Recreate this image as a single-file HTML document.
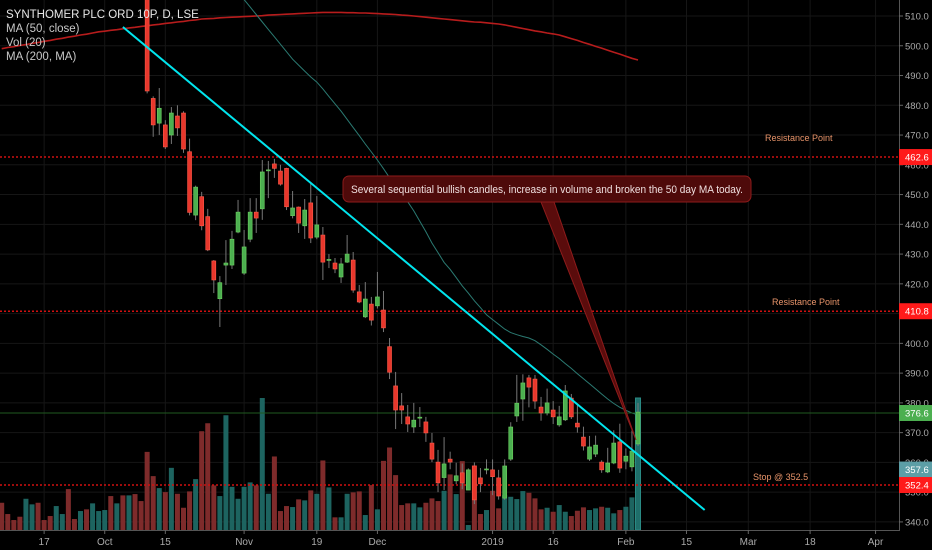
<!DOCTYPE html>
<html><head><meta charset="utf-8">
<style>
html,body{margin:0;padding:0;background:#000;}
svg{display:block;font-family:"Liberation Sans",sans-serif;}
</style></head>
<body>
<svg id="chart" width="932" height="550" viewBox="0 0 932 550">
  <rect width="932" height="550" fill="#000"/>
  <defs><clipPath id="plotClip"><rect x="0" y="0" width="899" height="530"/></clipPath></defs>
  <g id="grid"></g>
  <g id="volume" clip-path="url(#plotClip)"></g>
  <g id="lines" clip-path="url(#plotClip)"></g>
  <g id="candles" clip-path="url(#plotClip)"></g>
  <g id="overlay"></g>
  <g id="axes"></g>
  <g font-size="11.5">
    <text x="6" y="18" fill="#e6e6e6">SYNTHOMER PLC ORD 10P, D, LSE</text>
    <text x="6" y="32" fill="#c8c8c8">MA (50, close)</text>
    <text x="6" y="46" fill="#c8c8c8">Vol (20)</text>
    <text x="6" y="60" fill="#c8c8c8">MA (200, MA)</text>
  </g>
</svg>
<script>
const opens=[535,535,535,535,530,530,535,535,535,530,530,535,535,530,535,530,530,530,535,530,535,530,535,535,
525,482.3,474,473.4,470,476.4,477.4,464.4,443.1,449.3,442.6,427.7,415,426.3,426.3,437.4,423.6,435,444.1,445.2,458.1,460.3,457.9,458.8,442.9,445.8,439.5,447.2,435.7,436.4,428,427,422.3,427.3,428,417.3,408.9,413.2,
412.6,411.2,398.9,385.7,379,375.3,371.9,374.9,373.6,366.5,360.1,354.9,361.1,353.8,356.5,350.7,358.8,354.8,357.5,357.5,354.8,348,361.1,375.6,381.3,388.4,388,378.6,376.6,377.6,372.6,374.3,381.6,373.2,368.5,361.1,362.8,360.1,356.8,359.8,366.9,360.4,358.5,366.2];
const closes=[530,530,530,530,535,535,530,530,530,535,535,530,530,535,530,535,535,535,530,535,530,535,530,530,
484.8,473.4,479,466,477.4,472.4,465.3,444,452.5,439.5,431.4,421.3,420.4,427,435,444.1,432.4,444.1,442.1,457.6,458.3,458.8,453.5,445.9,445.5,440.4,444.8,435.4,439.8,427.3,428.2,425,426.7,430,417.9,413.9,414.9,407.8,
415.6,405.2,390.3,377.6,377.6,372.9,374.2,375.2,369.9,361.1,353.1,359.5,360.1,355.5,353.1,357.5,347.4,352.8,357.8,355.2,348.7,358.8,371.9,379.9,386.7,385.3,380.6,376.6,380,375.3,375.3,384,375.3,371.9,365.5,365.2,365.8,357.5,359.8,366.5,358.1,362.1,363.8,376.9];
const highs=[537,537,537,537,537,537,537,537,537,537,537,537,537,537,537,537,537,537,537,537,537,537,537,537,
532,483,485.8,475,479.4,480,478,468.8,453,450.9,445.2,428,422.6,434.7,437.8,448.2,438.1,448.8,448.8,461.6,461.3,462,460,459,451.2,446,448.5,453.9,449.5,439.1,430,428.7,428.7,436.4,430.7,419.6,420.6,415.6,
424,417.6,401.8,390.4,383.3,379.3,380,378.6,375.3,369.9,364.2,368.5,363.6,359.9,359.6,358,360,358.1,361,361,357.5,361,373.5,389.4,389.6,389.4,389.4,382,384.8,380.6,379,386,383,379.6,372,368.9,369,360.7,364.9,370.8,373,364.7,370.7,380];
const lows=[528,528,528,528,528,528,528,528,528,528,528,528,528,528,528,528,528,528,528,528,528,528,528,528,
484,469.4,470,465.3,467,469.7,464,443,441.4,438,431,416.9,405.5,419.6,425,437,423,434,437.1,441.5,448.8,455.6,453,444.8,442,437.1,435.1,433.7,435,421.3,425.3,423.6,420.3,427,417,413.5,408.5,406,
411.7,403.8,388,371.2,372.9,370.2,369.9,371.9,366.9,360.1,350,350.7,357.7,352.7,351,350.7,346,350,356,349,347.5,347.4,360.5,373.6,374,378.5,378,374,375.8,372.9,372,373.9,374.6,370,364,360.5,361.8,356.5,356.4,359.4,356.5,357.7,357,365.5];
const volumes=[273,160,100,133,313,257,273,100,140,240,160,410,110,190,207,267,190,200,340,267,347,347,360,290,
783,540,420,380,623,363,223,387,510,990,1070,447,340,1150,433,313,433,477,447,1323,363,737,190,240,230,307,297,397,363,697,427,127,127,363,377,387,150,450,
207,693,827,550,250,267,267,227,273,317,290,393,557,360,690,50,647,160,200,393,217,350,333,310,390,373,317,207,223,183,250,183,140,193,227,200,217,233,223,167,200,233,327,1323];
const ma50=[null,null,null,null,null,null,null,null,null,null,null,null,null,null,null,null,null,null,null,null,null,null,null,null,null,null,null,null,null,null,null,null,null,null,null,null,null,null,
523,519,515.5,513,510.5,508,505.5,503,500.5,498,495.5,493.5,491.5,489.5,487.8,485.5,483,480.5,478,475.3,472.5,469.8,467,464.3,461.6,458.7,455.7,452.5,449.7,447.6,444.5,441,437.5,433.7,430.5,427.2,424.9,422.1,419.3,416.9,414.3,412,409.6,408,406.4,404.8,403.6,402.9,402.3,401.8,400.9,399.5,398,396.4,394.9,393.2,391.6,389.8,388.1,386.4,384.7,383,381.3,379.8,378.5,377.5,376.6,376];
const ma200=[499,499.4,499.7,500.1,500.4,500.8,501.1,501.5,501.8,502.2,502.5,502.9,503.2,503.6,503.9,504.3,504.7,
504.9,505.2,505.4,505.7,506,506.2,506.5,506.7,507,507.2,507.5,507.7,508,508.2,508.5,508.7,509,
509.1,509.2,509.4,509.5,509.6,509.7,509.8,509.9,510,510.1,510.3,510.4,510.5,510.6,510.7,510.8,510.9,511,511.1,511.2,
511.2,511.2,511.2,511.1,511.1,511,511,510.9,510.8,510.7,510.6,510.5,510.3,
510.2,510,509.8,509.6,509.4,509.2,509,508.8,508.6,508.4,508.2,508,507.9,507.7,507.5,507.3,
507,506.6,506.2,505.8,505.4,505,504.7,504.3,504,503.6,
503,502.4,501.8,501.1,500.5,499.8,499.2,498.5,497.8,497.2,496.5,495.8,495.2];
const priceTicks=[340,350,360,370,380,390,400,410,420,430,440,450,460,470,480,490,500,510];
const dateLabels=["17","Oct","15","Nov","19","Dec","2019","16","Feb","15","Mar","18","Apr"];
const dateBarIdx=[7,17,27,40,52,62,81,91,103,113,123.2,133.4,144.2];
const trendIdx=[20,116];
const trendPrice=[506.3,344];
const levels=[462.6,410.8,352.4];
const lastPrice=376.6;
const ma50Label=357.6;

const NS="http://www.w3.org/2000/svg";
const N=opens.length;
const STEP=6.06;
function xOf(i){return 638-(N-1-i)*STEP;}
function yOf(p){return 16+(510-p)*2.976;}
const VOL_MAX=1323, VOL_H=132, VOL_BASE=530;
function vh(v){return v/VOL_MAX*VOL_H;}
function mk(tag,attrs,parent){const e=document.createElementNS(NS,tag);for(const k in attrs)e.setAttribute(k,attrs[k]);parent.appendChild(e);return e;}

const grid=document.getElementById('grid');
priceTicks.forEach(p=>{
  const l=mk('line',{x1:0,x2:899,y1:yOf(p),y2:yOf(p),stroke:'#161616','stroke-width':1},grid);
  
  
});
dateBarIdx.forEach(i=>{
  const l=mk('line',{x1:xOf(i),x2:xOf(i),y1:0,y2:530,stroke:'#161616','stroke-width':1},grid);
  
  
});

const vol=document.getElementById('volume');
volumes.forEach((v,i)=>{
  const up=closes[i]>=opens[i];
  const h=vh(v);
  const last=i===N-1;
  const r=mk('rect',{x:xOf(i)-2.5,y:VOL_BASE-h,width:5,height:h,fill:last?'#1f6e6a':(up?'#1d6460':'#7e2b2b'),stroke:last?'#2a8a84':'none'},vol);
  
  
});

const lines=document.getElementById('lines');
function path(arr){let d='';arr.forEach((v,i)=>{if(v==null)return;d+=(d?'L':'M')+xOf(i).toFixed(1)+','+yOf(v).toFixed(1);});return d;}
const m200=mk('path',{d:path(ma200),fill:'none',stroke:'#b71c1c','stroke-width':1.6},lines);


const m50=mk('path',{d:path(ma50),fill:'none',stroke:'#2b7a72','stroke-width':1},lines);


const lp=mk('line',{x1:0,x2:899,y1:yOf(lastPrice),y2:yOf(lastPrice),stroke:'#1f5a1f','stroke-width':1},lines);


levels.forEach(p=>{
  const l=mk('line',{x1:0,x2:899,y1:yOf(p),y2:yOf(p),stroke:'#d01010','stroke-width':1.5,'stroke-dasharray':'2,2'},lines);
  
  
});

const cg=document.getElementById('candles');
for(let i=0;i<N;i++){
  const up=closes[i]>=opens[i];
  const x=xOf(i);
  const w=mk('line',{x1:x,x2:x,y1:yOf(highs[i]),y2:yOf(lows[i]),stroke:'#777','stroke-width':1},cg);
  
  
  const top=yOf(Math.max(opens[i],closes[i])), bot=yOf(Math.min(opens[i],closes[i]));
  const b=mk('rect',{x:x-2,y:top,width:4,height:Math.max(1,bot-top),fill:up?'#4caf50':'#e8372c',stroke:up?'#6ccf60':'#ff5a4a','stroke-width':0.6},cg);
  
  
}

const ov=document.getElementById('overlay');
const tl=mk('line',{x1:xOf(trendIdx[0]),y1:yOf(trendPrice[0]),x2:xOf(trendIdx[1]),y2:yOf(trendPrice[1]),stroke:'#00e5ee','stroke-width':2},ov);


const tail=mk('polygon',{points:'541,202 554,202 636,440',fill:'#5a0c0c',stroke:'#8e1b1b','stroke-width':1},ov);


const box=mk('rect',{x:343,y:176,width:408,height:26,rx:6,fill:'#4e0a0a',stroke:'#8e1b1b','stroke-width':1},ov);


const ct=mk('text',{x:351,y:193,fill:'#f0e0e0','font-size':11,textLength:392,lengthAdjust:'spacingAndGlyphs'},ov);
ct.textContent='Several sequential bullish candles, increase in volume and broken the 50 day MA today.';


[[765,141,'Resistance Point','resistance-label-1'],[772,305,'Resistance Point','resistance-label-2'],[753,480,'Stop @ 352.5','stop-label']].forEach(a=>{
  const t=mk('text',{x:a[0],y:a[1],fill:'#e8946a','font-size':9},ov);
  t.textContent=a[2];
  
  
});

const ax=document.getElementById('axes');
const al=mk('line',{x1:899.5,x2:899.5,y1:0,y2:530,stroke:'#555','stroke-width':1},ax);


const bl=mk('line',{x1:0,x2:900,y1:530.5,y2:530.5,stroke:'#555','stroke-width':1},ax);


priceTicks.forEach(p=>{
  const y=yOf(p);
  const tk=mk('line',{x1:899,x2:903,y1:y,y2:y,stroke:'#666'},ax);
  
  
  const t=mk('text',{x:905,y:y+3.5,fill:'#aaa','font-size':9.5},ax);
  t.textContent=p.toFixed(1);
  
  
});
dateLabels.forEach((s,k)=>{
  const x=xOf(dateBarIdx[k]);
  const tk=mk('line',{x1:x,x2:x,y1:530,y2:534,stroke:'#666'},ax);
  
  
  const t=mk('text',{x:x,y:545,fill:'#aaa','font-size':10,'text-anchor':'middle'},ax);
  t.textContent=s;
  
  
});
[[levels[0],'#ff1a1a'],[levels[1],'#ff1a1a'],[lastPrice,'#4caf50'],[ma50Label,'#5c9ea6'],[levels[2],'#ff1a1a']].forEach(a=>{
  const y=yOf(a[0]);
  const r=mk('rect',{x:899,y:y-8,width:33,height:16,fill:a[1]},ax);
  
  
  const t=mk('text',{x:905,y:y+3.5,fill:'#fff','font-size':9.5},ax);
  t.textContent=a[0].toFixed(1);
  
  
});
</script>
</body></html>
